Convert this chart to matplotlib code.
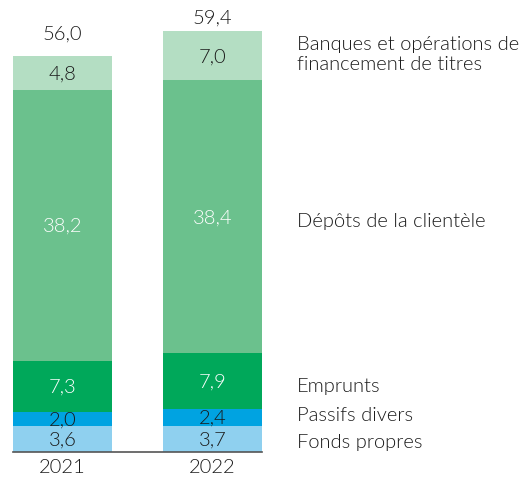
import matplotlib
matplotlib.use("Agg")
import matplotlib.pyplot as plt
import numpy as np

plt.rcParams['font.family'] = ['Lato', 'DejaVu Sans']
plt.rcParams['font.weight'] = 300

years = ["2021", "2022"]
categories = [
    "Fonds propres",
    "Passifs divers",
    "Emprunts",
    "Dépôts de la clientèle",
    "Banques et opérations de\nfinancement de titres",
]
values = {
    "Fonds propres": [3.6, 3.7],
    "Passifs divers": [2.0, 2.4],
    "Emprunts": [7.3, 7.9],
    "Dépôts de la clientèle": [38.2, 38.4],
    "Banques et opérations de\nfinancement de titres": [4.8, 7.0],
}
totals = [56.0, 59.4]

colors = ["#8fd0ef", "#00a3e1", "#00a85a", "#6bc18d", "#b4dec3"]
label_colors = ["#1a1a1a", "#1a1a1a", "white", "white", "#1a1a1a"]
# vertical nudge (pixels) of the side labels so they don't crowd each other
nudges = [-3, 3, -5, -4, 2]
text_dark = "#1a1a1a"
fs = 14.5

fig = plt.figure(figsize=(5.27, 4.81), dpi=100)
ax = fig.add_axes([13 / 527, 28 / 481, 249 / 527, 425.4 / 481])

x = np.arange(len(years))
width = 0.664
bottom = np.zeros(len(years))
for cat, col, lc, dy in zip(categories, colors, label_colors, nudges):
    vals = np.array(values[cat])
    ax.bar(x, vals, width, bottom=bottom, color=col, linewidth=0)
    for xi, v, b in zip(x, vals, bottom):
        ax.text(xi, b + v / 2, f"{v:.1f}".replace(".", ","), ha="center", va="center",
                fontsize=fs, color=lc, fontweight=300)
    # category name beside the 2022 column
    ax.annotate(cat, (1.566, bottom[-1] + vals[-1] / 2), xytext=(0, dy),
                textcoords="offset pixels", ha="left", va="center",
                fontsize=fs, color=text_dark, linespacing=1.2,
                annotation_clip=False, fontweight=300)
    bottom += vals

for xi, t, off in zip(x, totals, [22, 14]):
    ax.annotate(f"{t:.1f}".replace(".", ","), (xi, t), xytext=(0, off),
                textcoords="offset pixels", ha="center", va="center",
                fontsize=fs, color=text_dark, fontweight=300)

ax.set_xlim(-0.332, 1.332)
ax.set_ylim(0, 60)
ax.set_xticks(x)
ax.set_xticklabels(years, fontsize=fs, color=text_dark, fontweight=300)
ax.tick_params(axis="x", length=0, pad=4)
ax.set_yticks([])
for s in ["top", "right", "left"]:
    ax.spines[s].set_visible(False)
ax.spines["bottom"].set_color("#555555")
ax.spines["bottom"].set_linewidth(1.2)

fig.savefig("out.png", dpi=100)
